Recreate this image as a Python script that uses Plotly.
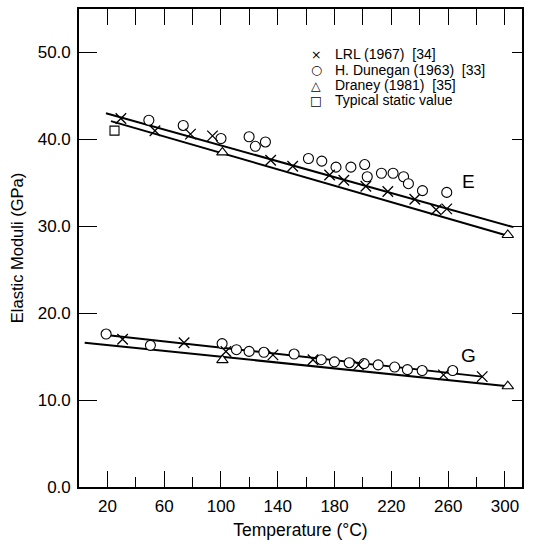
import plotly.graph_objects as go

# ---------------- data ----------------
# Young's modulus E (GPa)
lrl_E_T = [29.5, 53.5, 78.5, 94, 135, 150.5, 176.5, 186.5, 202, 217.5, 236.5, 251.5, 259]
lrl_E_V = [42.4, 41.0, 40.6, 40.4, 37.6, 36.9, 35.9, 35.3, 34.6, 34.0, 33.1, 31.9, 32.0]
dun_E_T = [49.2, 73.4, 100, 119.8, 124.2, 131.3, 161.6, 171, 181, 191.5, 201.2, 203, 213,
           221.2, 228.6, 232, 241.9, 259]
dun_E_V = [42.2, 41.6, 40.1, 40.3, 39.2, 39.7, 37.8, 37.5, 36.8, 36.8, 37.1, 35.7, 36.1, 36.1,
           35.7, 34.9, 34.1, 33.9]
dra_E_T = [101, 302]
dra_E_V = [38.5, 29.0]
static_E_T = [25]
static_E_V = [41.0]

# Shear modulus G (GPa)
lrl_G_T = [30.7, 74, 103.5, 136.6, 164.8, 196.8, 256.7, 284]
lrl_G_V = [17.0, 16.6, 15.6, 15.2, 14.65, 14.05, 12.9, 12.7]
dun_G_T = [19.1, 50.3, 100.8, 110.9, 119.8, 130.2, 151.5, 170.6, 179.9, 190.3, 200.8, 210.7,
           222.3, 231.3, 241.7, 263.2]
dun_G_V = [17.6, 16.3, 16.5, 15.8, 15.6, 15.5, 15.3, 14.65, 14.4, 14.3, 14.2, 14.05,
           13.8, 13.5, 13.4, 13.4]
dra_G_T = [101, 302]
dra_G_V = [14.6, 11.6]

# fitted lines (end points)
fit_E_upper_T = [19, 306]
fit_E_upper_V = [43.0, 29.9]
fit_E_lower_T = [22.5, 302]
fit_E_lower_V = [42.1, 28.9]
fit_G_upper_T = [19.1, 284]
fit_G_upper_V = [17.5, 12.7]
fit_G_lower_T = [4, 302]
fit_G_lower_V = [16.6, 11.6]

x_major = [20, 60, 100, 140, 180, 220, 260, 300]
x_minor = [40, 80, 120, 160, 200, 240, 280]
x_top = [20, 40, 60, 80, 100, 120, 140, 160, 180, 200, 220, 240, 260, 280, 300]
y_ticks = [0, 10, 20, 30, 40, 50]
y_right = [10, 20, 30, 40, 50]

legend_labels = ["LRL (1967)  [34]", "H. Dunegan (1963)  [33]", "Draney (1981)  [35]",
                 "Typical static value"]
legend_glyphs = ["\u00d7", "\u25cb", "\u25b3", "\u25a1"]

FONT = "Liberation Sans, Arial, sans-serif"

fig = go.Figure()

for tx, vy in [(fit_E_upper_T, fit_E_upper_V), (fit_E_lower_T, fit_E_lower_V),
               (fit_G_upper_T, fit_G_upper_V), (fit_G_lower_T, fit_G_lower_V)]:
    fig.add_trace(go.Scatter(x=tx, y=vy, mode="lines", line=dict(color="black", width=2),
                             showlegend=False, hoverinfo="skip"))

def pts(tx, vy, symbol, size):
    fig.add_trace(go.Scatter(
        x=tx, y=vy, mode="markers", showlegend=False,
        marker=dict(symbol=symbol, size=size, color="white",
                    line=dict(color="black", width=1.1))))

def xs(tx, vy):
    fig.add_trace(go.Scatter(
        x=tx, y=vy, mode="markers", showlegend=False,
        marker=dict(symbol="x-thin", size=10.5, color="black",
                    line=dict(color="black", width=1.3))))

pts(dun_E_T, dun_E_V, "circle", 10)
pts(dun_G_T, dun_G_V, "circle", 10)
xs(lrl_E_T, lrl_E_V)
xs(lrl_G_T, lrl_G_V)
pts(dra_E_T, dra_E_V, "triangle-up", 10)
pts(dra_G_T, dra_G_V, "triangle-up", 10)
pts(static_E_T, static_E_V, "square", 9)

# invisible trace for the overlay axes (top / right ticks)
fig.add_trace(go.Scatter(x=[None], y=[None], xaxis="x2", yaxis="y2", showlegend=False,
                         hoverinfo="skip"))

# legend as text
leg_y = [49.8, 48.0, 46.2, 44.5]
for g, lab, yy in zip(legend_glyphs, legend_labels, leg_y):
    fig.add_annotation(x=167, y=yy, xref="x", yref="y", text=g, showarrow=False,
                       font=dict(family="DejaVu Sans", size=12.5, color="black"))
    fig.add_annotation(x=179, y=yy, xref="x", yref="y", text=lab, showarrow=False,
                       xanchor="left", font=dict(family=FONT, size=14, color="black"))

fig.add_annotation(x=274, y=35.2, xref="x", yref="y", text="E", showarrow=False,
                   font=dict(family=FONT, size=19, color="black"))
fig.add_annotation(x=274, y=15.1, xref="x", yref="y", text="G", showarrow=False,
                   font=dict(family=FONT, size=19, color="black"))

fig.update_layout(
    width=538, height=546,
    margin=dict(l=79, r=16, t=7, b=59),
    paper_bgcolor="white", plot_bgcolor="white",
    font=dict(family=FONT, size=17, color="black"),
    showlegend=False,
    xaxis=dict(range=[0, 312], tickvals=x_major, ticks="inside", ticklen=16,
               tickwidth=1.2, tickcolor="black", showline=True, linewidth=1.6,
               linecolor="black", mirror=True, showgrid=False, zeroline=False,
               ticklabelstandoff=3,
               minor=dict(tickvals=x_minor, ticks="inside", ticklen=10, tickwidth=1.2,
                          tickcolor="black", showgrid=False),
               title=dict(text="Temperature (\u00b0C)", font=dict(size=17.5), standoff=9)),
    yaxis=dict(range=[0, 55], tickvals=y_ticks, tickformat=".1f", ticks="inside",
               ticklen=18, tickwidth=1.2, tickcolor="black", showline=True,
               linewidth=1.6, linecolor="black", mirror=True, showgrid=False,
               zeroline=False, ticklabelstandoff=3,
               title=dict(text="Elastic Moduli (GPa)", font=dict(size=16.5), standoff=10)),
    xaxis2=dict(range=[0, 312], overlaying="x", side="top", anchor="y", tickvals=x_top,
                ticks="inside", ticklen=16, tickwidth=1.2, tickcolor="black",
                showticklabels=False, showline=False, showgrid=False, zeroline=False),
    yaxis2=dict(range=[0, 55], overlaying="y", side="right", anchor="x", tickvals=y_right,
                ticks="inside", ticklen=10, tickwidth=1.2, tickcolor="black",
                showticklabels=False, showline=False, showgrid=False, zeroline=False),
)

fig.write_html("out.html")
